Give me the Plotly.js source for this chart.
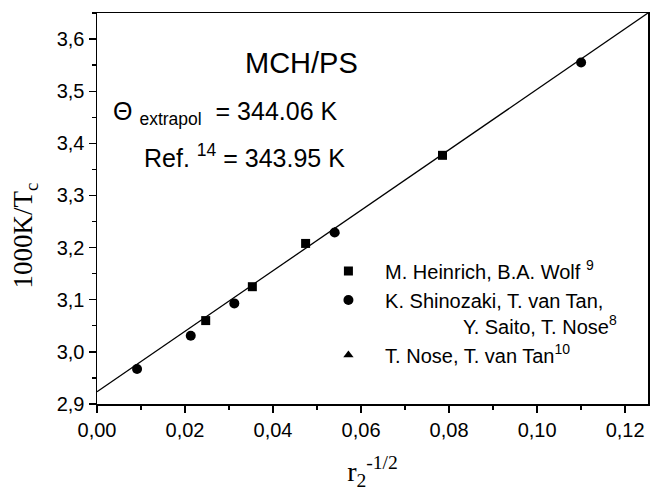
<!DOCTYPE html>
<html>
<head>
<meta charset="utf-8">
<script src="https://cdn.plot.ly/plotly-3.0.1.min.js"></script>
<style>html,body{margin:0;padding:0;background:#fff}#chart{width:650px;height:491px}</style>
</head>
<body>
<div id="chart"></div>
<script>
// Data
const heinrichX = [0.0247, 0.0353, 0.0474, 0.0785];
const heinrichY = [3.060, 3.125, 3.208, 3.377];
const shinozakiX = [0.0091, 0.0213, 0.0312, 0.0540, 0.1100];
const shinozakiY = [2.967, 3.031, 3.093, 3.229, 3.555];
const noseX = [0.0540];
const noseY = [3.231];
const fitX = [0.0, 0.1252];
const fitY = [2.9236, 3.650];
const seriesNames = [
  '&nbsp;&nbsp;&nbsp;M. Heinrich, B.A. Wolf <sup>9</sup>',
  '&nbsp;&nbsp;&nbsp;K. Shinozaki, T. van Tan,<br>&nbsp;&nbsp;&nbsp;&nbsp;&nbsp;&nbsp;&nbsp;&nbsp;&nbsp;&nbsp;&nbsp;&nbsp;&nbsp;&nbsp;&nbsp;&nbsp;&nbsp;Y. Saito, T. Nose<sup>8</sup>',
  '&nbsp;&nbsp;&nbsp;T. Nose, T. van Tan<sup>10</sup>'
];

const traces = [
  {x: fitX, y: fitY, mode: 'lines', line: {color: '#000', width: 1.3}, showlegend: false, hoverinfo: 'skip'},
  {x: heinrichX, y: heinrichY, mode: 'markers', name: seriesNames[0],
   marker: {symbol: 'square', size: 9, color: '#000'}},
  {x: shinozakiX, y: shinozakiY, mode: 'markers', name: seriesNames[1],
   marker: {symbol: 'circle', size: 10, color: '#000'}},
  {x: noseX, y: noseY, mode: 'markers', name: seriesNames[2],
   marker: {symbol: 'triangle-up', size: 9, color: '#000'}}
];

const sans = 'Liberation Sans, Arial, sans-serif';
const serif = 'Liberation Serif, Times New Roman, serif';
const tickFont = {family: sans, size: 20, color: '#000'};
const layout = {
  width: 650, height: 491,
  margin: {l: 97, r: 2, t: 13, b: 87},
  paper_bgcolor: '#fff', plot_bgcolor: '#fff',
  separators: ',.',
  showlegend: true,
  legend: {x: 0.42, y: 0.39, xanchor: 'left', yanchor: 'top', bgcolor: 'rgba(0,0,0,0)',
           valign: 'top', font: {family: sans, size: 20, color: '#000'}},
  xaxis: {
    range: [0, 0.1252], dtick: 0.02, tick0: 0, tickformat: '.2f',
    ticks: 'outside', ticklen: 7, tickwidth: 1.4, tickcolor: '#000',
    minor: {dtick: 0.01, ticks: 'outside', ticklen: 4, tickwidth: 1.3, tickcolor: '#000'},
    showline: true, linecolor: '#000', linewidth: 1.5, mirror: true,
    showgrid: false, zeroline: false, tickfont: tickFont,
    title: {text: 'r<sub>2</sub><sup>-1/2</sup>', standoff: 22,
            font: {family: serif, size: 28, color: '#000'}}
  },
  yaxis: {
    range: [2.9, 3.65], dtick: 0.1, tick0: 2.9, tickformat: '.1f',
    ticks: 'outside', ticklen: 7, tickwidth: 1.4, tickcolor: '#000',
    minor: {dtick: 0.05, ticks: 'outside', ticklen: 4, tickwidth: 1.3, tickcolor: '#000'},
    showline: true, linecolor: '#000', linewidth: 1.5, mirror: true,
    showgrid: false, zeroline: false, tickfont: tickFont,
    title: {text: '1000K/T<sub>c</sub>&nbsp;&nbsp;&nbsp;&nbsp;&nbsp;&nbsp;&nbsp;&nbsp;', standoff: 16,
            font: {family: serif, size: 27, color: '#000'}}
  },
  annotations: [
    {xref: 'paper', yref: 'paper', x: 0.372, y: 0.872, text: 'MCH/PS', showarrow: false,
     xanchor: 'center', yanchor: 'middle',
     font: {family: sans, size: 29, color: '#000'}},
    {xref: 'paper', yref: 'paper', x: 0.025, y: 0.744, text: 'Θ <sub>extrapol</sub>&nbsp; = 344.06 K', showarrow: false,
     xanchor: 'left', yanchor: 'middle',
     font: {family: sans, size: 25, color: '#000'}},
    {xref: 'paper', yref: 'paper', x: 0.082, y: 0.634, text: 'Ref. <sup>14</sup> = 343.95 K', showarrow: false,
     xanchor: 'left', yanchor: 'middle',
     font: {family: sans, size: 25, color: '#000'}}
  ]
};

Plotly.newPlot('chart', traces, layout, {displayModeBar: false, staticPlot: true});
</script>
</body>
</html>
